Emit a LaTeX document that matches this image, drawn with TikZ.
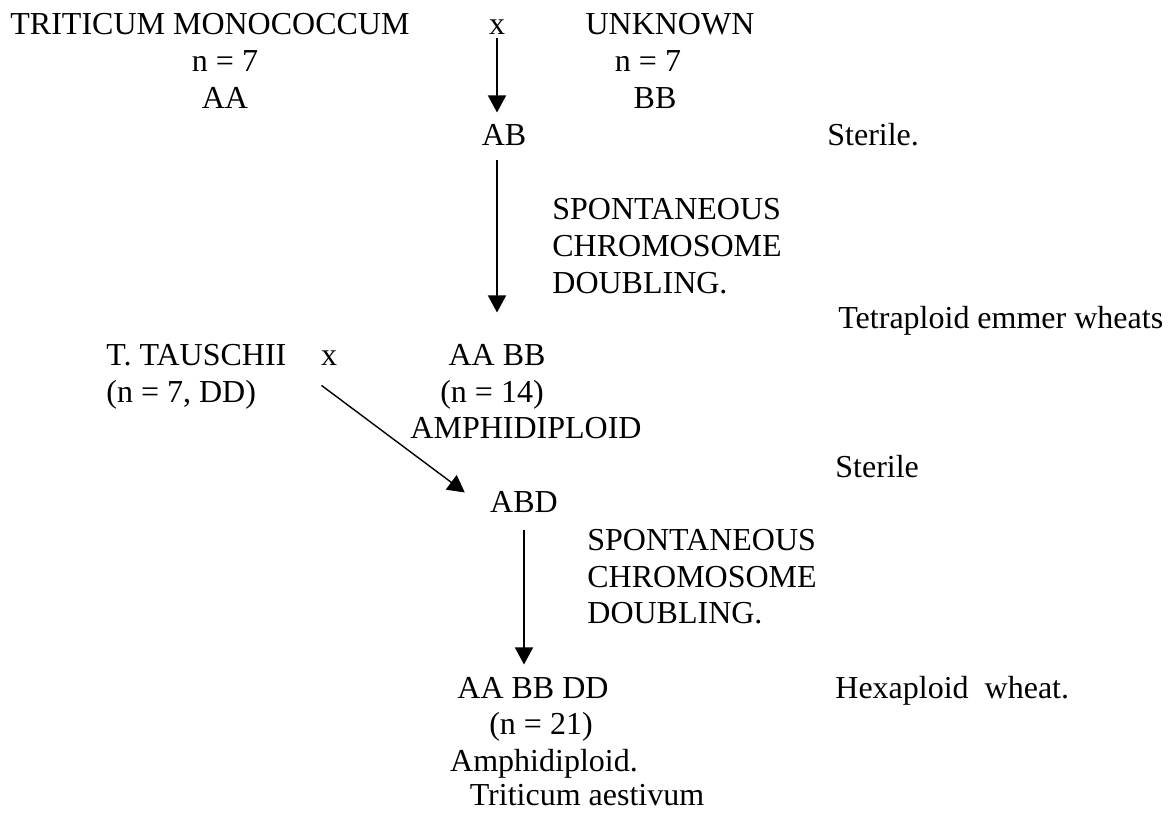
\documentclass[tikz,border=0pt]{standalone}
\usepackage{fontspec}
\setmainfont{Liberation Serif}
\usepackage{tikz}
\usetikzlibrary{
	arrows.meta, % for the filled arrow heads
	calc
	}

\begin{document}
\begin{tikzpicture}[
                x=0.5pt,y=-0.5pt,
                lbl/.style={inner sep=0pt,font=\fontsize{16}{18.5}\selectfont},
                mid/.style={lbl,anchor=base},
                left/.style={lbl,anchor=base west},
                arr/.style={draw=black,line width=0.7pt,-{Triangle[length=8.5pt,width=9pt]}},
            ]

                \useasboundingbox (0,0) rectangle (1169,814);

                %% First cross: T. monococcum x unknown
                \node[mid] (mono) at (210,34) {TRITICUM MONOCOCCUM};
                \node[mid] (monon) at (225,71) {n = 7};
                \node[mid] (monog) at (225,108) {AA};
                \node[mid] (cross1) at (497,34) {x};
                \node[mid] (unk) at (670,34) {UNKNOWN};
                \node[mid] (unkn) at (648,71) {n = 7};
                \node[mid] (unkg) at (655,108) {BB};

                % Hybrid AB
                \node[mid] (AB) at (504,145) {AB};
                \node[left] (ster1) at (827,145) {Sterile.};

                % Doubling step
                \node[left] (dbl1) at (552,219) {SPONTANEOUS};
                \node[left] (dbl1b) at (552,256) {CHROMOSOME};
                \node[left] (dbl1c) at (552,293) {DOUBLING.};
                \node[left] (tetra) at (838,328) {Tetraploid emmer wheats};

                %% Second cross: T. tauschii x AA BB
                \node[left] (taus) at (106,365) {T. TAUSCHII};
                \node[left] (tausn) at (106,402) {(n = 7, DD)};
                \node[mid] (cross2) at (329,365) {x};
                \node[mid] (AABB) at (497,365) {AA BB};
                \node[mid] (AABBn) at (492,402) {(n = 14)};
                \node[mid] (AABBa) at (526,438) {AMPHIDIPLOID};
                \node[left] (ster2) at (835,477) {Sterile};

                % Hybrid ABD
                \node[mid] (ABD) at (524,512) {ABD};
                \node[left] (dbl2) at (587,550) {SPONTANEOUS};
                \node[left] (dbl2b) at (587,587) {CHROMOSOME};
                \node[left] (dbl2c) at (587,623) {DOUBLING.};

                %% Hexaploid wheat
                \node[mid] (hexa) at (533,698) {AA BB DD};
                \node[mid] (hexan) at (541,734) {(n = 21)};
                \node[mid] (hexaa) at (544,771) {Amphidiploid.};
                \node[mid] (hexat) at (587,805) {Triticum aestivum};
                \node[left] (hexw) at (835,698) {Hexaploid\ \ wheat.};

                % Arrows
                \draw[arr,shorten <=2pt,shorten >=5.5pt] (cross1.south) -- (cross1.south |- AB.north);
                \draw[arr,shorten <=7.5pt,shorten >=15.5pt] (AB.south -| cross1) -- (cross1 |- AABB.north);
                \draw[arr] ([xshift=-3.75pt,yshift=-10pt]cross2.south) -- ([xshift=-12.5pt,yshift=-1pt]ABD.north west);
                \draw[arr,shorten <=9pt,shorten >=6pt] (ABD.south) -- (ABD.south |- hexa.north);

            \end{tikzpicture}
\end{document}
